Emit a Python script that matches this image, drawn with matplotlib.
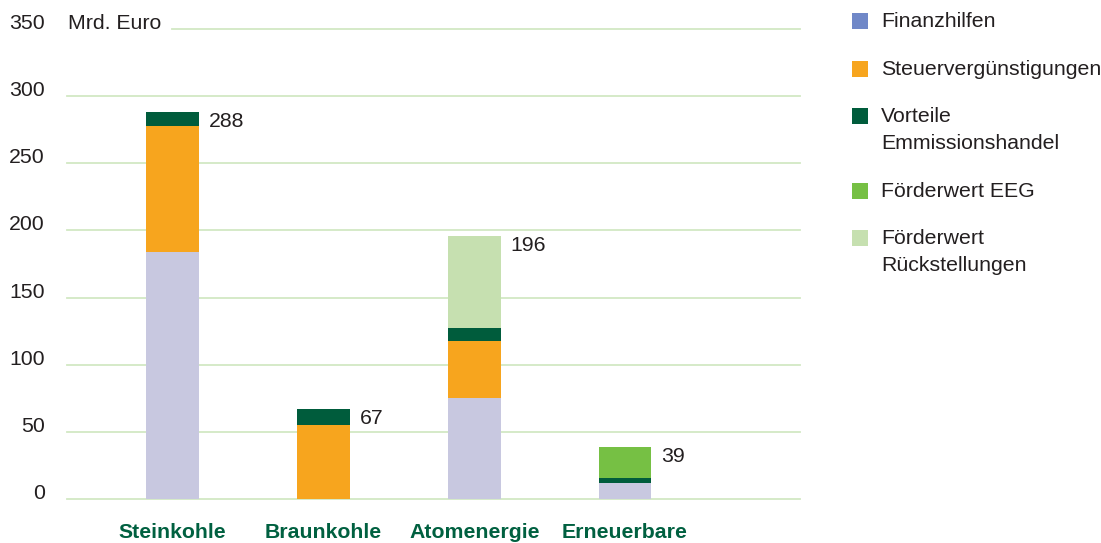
import matplotlib
matplotlib.use("Agg")
import matplotlib.pyplot as plt
from matplotlib.patches import Rectangle
import numpy as np

plt.rcParams['font.family'] = ['Liberation Sans', 'DejaVu Sans']

categories = ["Steinkohle", "Braunkohle", "Atomenergie", "Erneuerbare"]
series_names = ["Finanzhilfen", "Steuervergünstigungen", "Vorteile\nEmmissionshandel",
                "Förderwert EEG", "Förderwert\nRückstellungen"]
finanzhilfen = [184, 0, 75, 12]
steuer = [94, 55, 43, 0]
emission = [10, 12, 9, 4]
eeg = [0, 0, 0, 23]
rueckstellungen = [0, 0, 69, 0]
totals = [288, 67, 196, 39]
yticks = [0, 50, 100, 150, 200, 250, 300, 350]

bar_colors = ["#c8c8e0", "#f7a51e", "#005c3c", "#76c044", "#c6e0b0"]
legend_colors = ["#7088c8", "#f7a51e", "#005c3c", "#76c044", "#c6e0b0"]
text_color = "#231f20"
grid_color = "#d2e8c4"
cat_color = "#006040"
FS = 15.3

W, H = 1101, 543
fig = plt.figure(figsize=(W / 100, H / 100), dpi=100)
ax = fig.add_axes([67 / W, (H - 499) / H, (800 - 67) / W, (499 - 29) / H])
ax.set_xlim(-0.70, 4.16)
ax.set_ylim(0, 350)

for y in yticks:
    xmin = (172 - 67) / (800 - 67) if y == 350 else 0
    ax.axhline(y, xmin=xmin, xmax=1, color=grid_color, lw=1.3, zorder=0, clip_on=False)

x = np.arange(len(categories))
width = 0.35
bottom = np.zeros(len(categories))
for vals, col in zip([finanzhilfen, steuer, emission, eeg, rueckstellungen], bar_colors):
    v = np.array(vals, dtype=float)
    ax.bar(x, v, width, bottom=bottom, color=col, zorder=2, linewidth=0)
    bottom += v

for xi, t in zip(x, totals):
    ax.annotate(str(t), (xi + width / 2, t), xytext=(7, 0), textcoords="offset points",
                ha="left", va="top", fontsize=FS, color=text_color)

for s in ax.spines.values():
    s.set_visible(False)
ax.set_yticks(yticks)
ax.set_yticklabels([str(v) for v in yticks], fontsize=FS, color=text_color)
ax.tick_params(axis="y", length=0, pad=16)
for lbl in ax.get_yticklabels():
    lbl.set_horizontalalignment("right")
    lbl.set_verticalalignment("baseline")
ax.set_xticks(x)
ax.set_xticklabels(categories, fontsize=FS, fontweight="bold", color=cat_color)
ax.tick_params(axis="x", length=0, pad=17.5)

ax.text(68 / W, 1 - 29 / H, "Mrd. Euro", transform=fig.transFigure, ha="left",
        va="baseline", fontsize=FS, color=text_color)

# legend
sq_tops = [13, 61, 108, 183, 230]
for top, col, name in zip(sq_tops, legend_colors, series_names):
    fig.add_artist(Rectangle((852 / W, 1 - (top + 16) / H), 16 / W, 16 / H,
                             transform=fig.transFigure, color=col, lw=0))
    lines = name.split("\n")
    for i, line in enumerate(lines):
        fig.text(881 / W, 1 - (top + 8.5 + 27 * i) / H, line, ha="left", va="center",
                 fontsize=FS, color=text_color)

fig.savefig("out.png", dpi=100)
